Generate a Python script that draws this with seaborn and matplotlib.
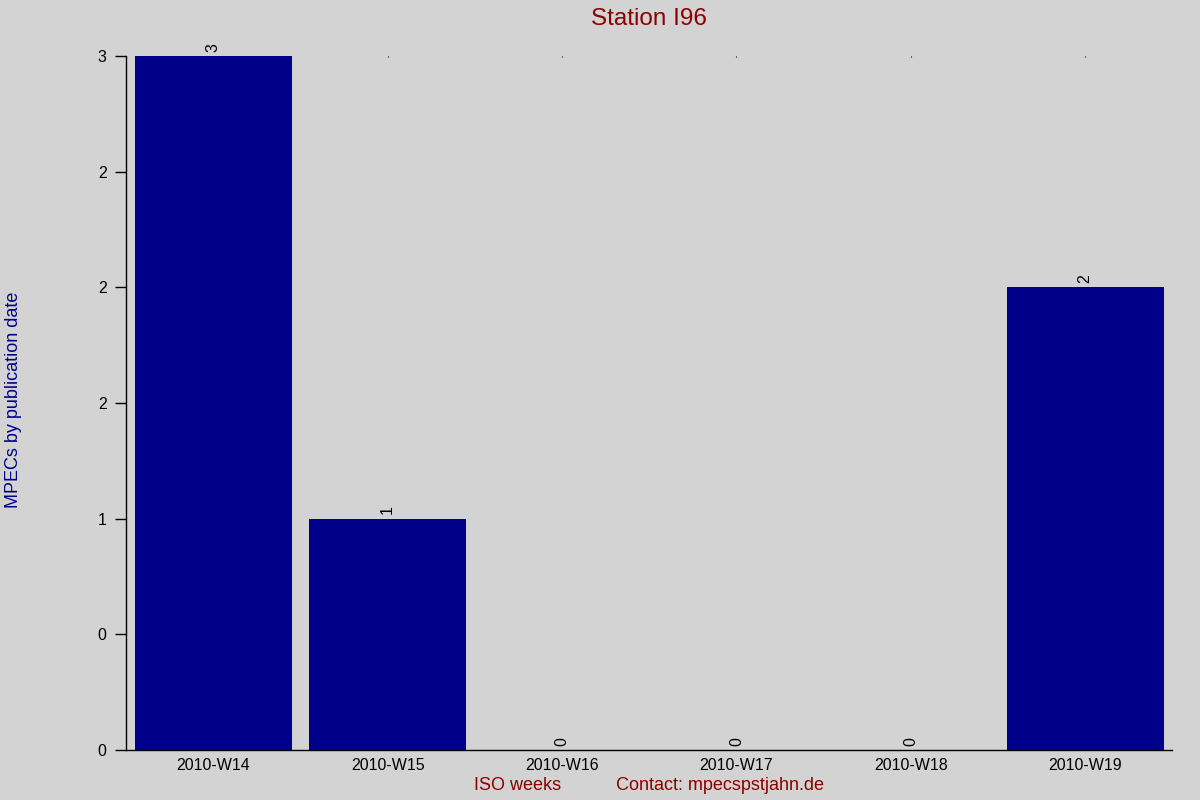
import matplotlib
matplotlib.use("Agg")
import matplotlib.pyplot as plt
import seaborn as sns
import numpy as np

# weekly MPEC counts for station I96
weeks = ["2010-W14", "2010-W15", "2010-W16", "2010-W17", "2010-W18", "2010-W19"]
counts = [3, 1, 0, 0, 0, 2]
yticks = [0, 0.5, 1, 1.5, 2, 2.5, 3]

sns.set_style("white")
plt.rcParams['font.family'] = ['Liberation Sans', 'DejaVu Sans']

bg = "#d3d3d3"
fig = plt.figure(figsize=(12, 8), dpi=100, facecolor=bg)
ax = fig.add_axes([0.105, 0.0625, 0.872, 0.8675])
ax.set_facecolor(bg)

sns.barplot(x=weeks, y=counts, color="#00008b", saturation=1, width=0.9,
            linewidth=0, edgecolor="none", ax=ax)
ax.bar_label(ax.containers[0], labels=[str(c) for c in counts], rotation=90,
             padding=3, fontsize=11.5, color="black")

ax.set_xlim(-0.5, len(weeks) - 0.5)
ax.set_ylim(0, 3)
ax.set_yticks(yticks)
ax.set_yticklabels(["%.0f" % t for t in yticks])  # rounded like the original
ax.tick_params(axis="y", left=True, length=8, width=1, labelsize=11.5, pad=6,
               color="black", labelcolor="black")
ax.tick_params(axis="x", bottom=False, top=True, direction="in", length=1,
               labelsize=11.5, pad=6, color="black", labelcolor="black")

for s in ["top", "right"]:
    ax.spines[s].set_visible(False)
for s in ["left", "bottom"]:
    ax.spines[s].set_color("black")
    ax.spines[s].set_linewidth(1)

ax.set_title("Station I96", color="#8b0000", fontsize=17.5, pad=22)
ax.set_xlabel("ISO weeks           Contact: mpecspstjahn.de", color="#8b0000", fontsize=13, labelpad=3)
ax.set_ylabel("")
fig.text(0.011, 0.5, "MPECs by publication date", color="#00008b", fontsize=13,
         rotation=90, va="center", ha="center")

fig.savefig("out.png", dpi=100, facecolor=bg)
